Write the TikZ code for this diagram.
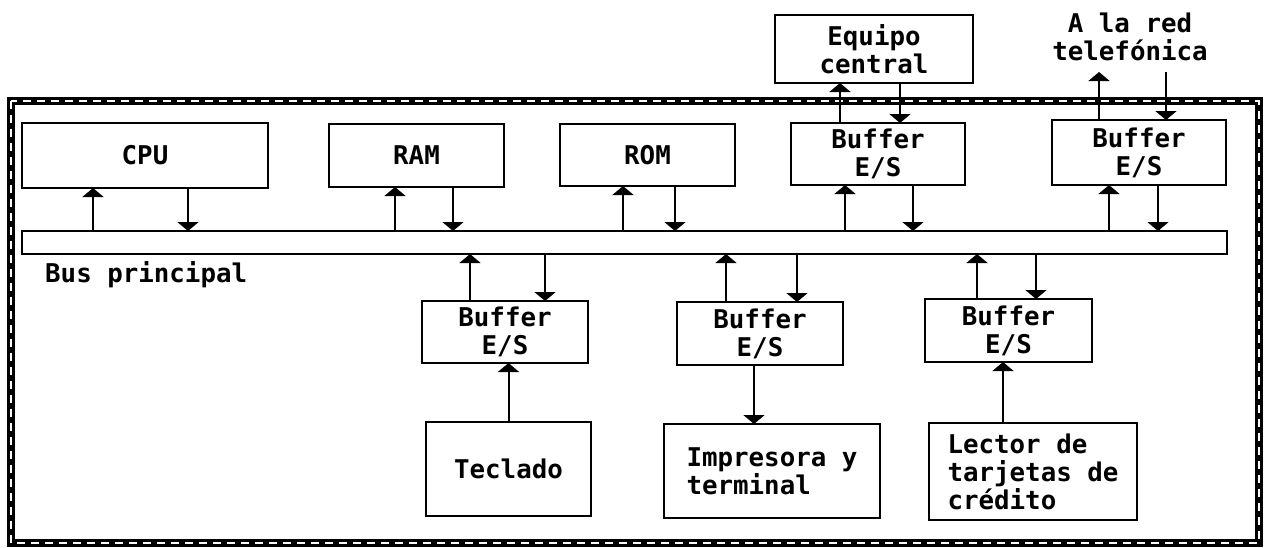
\documentclass[tikz,border=0pt]{standalone}
\usepackage{fontspec}
\setmonofont{DejaVu Sans Mono}
\usepackage{tikz}
\usetikzlibrary{arrows.meta, positioning, calc}

\begin{document}
\begin{tikzpicture}[
    x=1pt, y=-1pt,
    txt/.style={font=\ttfamily\bfseries\fontsize{25.8}{28}\selectfont},
    unitbox/.style={rectangle, draw, line width=2pt, outer sep=0pt, align=center, txt},
    arr/.style={line width=2pt, -{Triangle[width=21pt, length=9pt]}}
]
\useasboundingbox (0,0) rectangle (1265,547);

% marco exterior
\draw[line width=8pt] (11,101) rectangle (1259,543);
\draw[white, line width=2pt, dash pattern=on 8pt off 6pt] (11,101) rectangle (1259,543);

% bloques superiores
\node[unitbox, minimum width=246pt, minimum height=65pt] (cpu) at (145,155.5) {CPU};
\node[unitbox, minimum width=175pt, minimum height=63pt] (ram) at (416.5,155.5) {RAM};
\node[unitbox, minimum width=175pt, minimum height=62pt] (rom) at (647.5,155) {ROM};
\node[unitbox, minimum width=174pt, minimum height=62pt] (bufa) at (878,154) {Buffer\\E/S};
\node[unitbox, minimum width=174pt, minimum height=65pt] (bufb) at (1139,152.5) {Buffer\\E/S};
\node[unitbox, minimum width=198pt, minimum height=68pt] (equipo) at (874,49) {Equipo\\central};
\node[txt, align=center] (red) at (1130,37) {A la red\\telefónica};

% bus
\node[unitbox, minimum width=1205pt, minimum height=23pt] (bus) at (624.5,242.5) {};
\node[txt, anchor=base west, inner sep=0pt] (busname) at (45,282) {Bus principal};

% bloques inferiores
\node[unitbox, minimum width=166pt, minimum height=62pt] (bufc) at (505,332) {Buffer\\E/S};
\node[unitbox, minimum width=166pt, minimum height=63pt] (bufd) at (760,333.5) {Buffer\\E/S};
\node[unitbox, minimum width=167pt, minimum height=63pt] (bufe) at (1008.5,330.5) {Buffer\\E/S};
\node[unitbox, minimum width=165pt, minimum height=94pt] (teclado) at (508.5,469) {Teclado};
\node[unitbox, align=left, minimum width=216pt, minimum height=94pt] (impresora) at (772,471) {Impresora y\\terminal};
\node[unitbox, align=left, minimum width=208pt, minimum height=97pt] (lector) at (1033,471.5) {Lector de\\tarjetas de\\crédito};

% posiciones de las flechas
\foreach \n/\x in {c1/93, c2/188, r1/395, r2/453, o1/623, o2/675, a1/845, a2/913,
                   b1/1109, b2/1158, d1/470, d2/545, e1/726, e2/797, f1/977, f2/1036,
                   q1/840, q2/900, g1/754, h1/1003}
    \coordinate (\n) at (\x,0);
\coordinate (redup) at (1099,72);
\coordinate (reddn) at (1166,72);

\foreach \b/\u/\d in {cpu/c1/c2, ram/r1/r2, rom/o1/o2, bufa/a1/a2, bufb/b1/b2} {
    \draw[arr] (bus.north -| \u) -- (\b.south -| \u);
    \draw[arr] (\b.south -| \d) -- (bus.north -| \d);
}
\foreach \b/\u/\d in {bufc/d1/d2, bufd/e1/e2, bufe/f1/f2} {
    \draw[arr] (\b.north -| \u) -- (bus.south -| \u);
    \draw[arr] (bus.south -| \d) -- (\b.north -| \d);
}

\draw[arr] (bufa.north -| q1) -- (equipo.south -| q1);
\draw[arr] (equipo.south -| q2) -- (bufa.north -| q2);
\draw[arr] (bufb.north -| redup) -- (redup);
\draw[arr] (reddn) -- (bufb.north -| reddn);

\draw[arr] (teclado.north) -- (bufc.south -| teclado.north);
\draw[arr] (bufd.south -| g1) -- (impresora.north -| g1);
\draw[arr] (lector.north -| h1) -- (bufe.south -| h1);

\end{tikzpicture}
\end{document}
